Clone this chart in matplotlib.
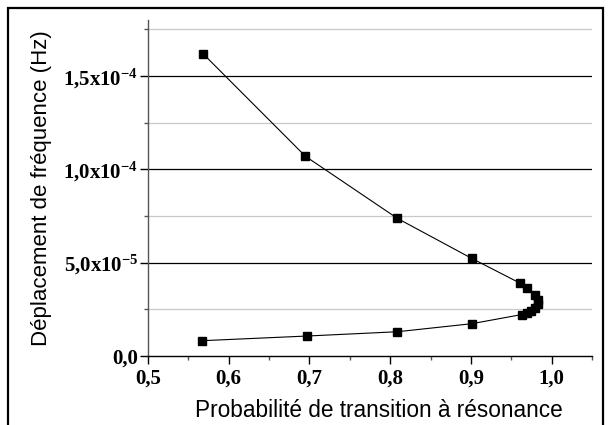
import matplotlib
matplotlib.use("Agg")
import matplotlib.pyplot as plt
from matplotlib.ticker import MultipleLocator
from matplotlib.patches import Rectangle

plt.rcParams['mathtext.fontset'] = 'custom'
plt.rcParams['mathtext.rm'] = 'Liberation Serif:bold'
plt.rcParams['mathtext.bf'] = 'Liberation Serif:bold'
plt.rcParams['mathtext.it'] = 'Liberation Serif:bold'

# Probability of transition at resonance vs. frequency shift
probabilite = [0.568, 0.695, 0.809, 0.901, 0.961, 0.970, 0.979, 0.983, 0.983,
               0.980, 0.975, 0.969, 0.963, 0.901, 0.809, 0.697, 0.567]
deplacement = [1.62e-4, 1.07e-4, 7.37e-5, 5.23e-5, 3.90e-5, 3.63e-5, 3.26e-5,
               2.99e-5, 2.78e-5, 2.56e-5, 2.40e-5, 2.30e-5, 2.22e-5, 1.73e-5,
               1.30e-5, 1.07e-5, 8.2e-6]

x_ticks = [0.5, 0.6, 0.7, 0.8, 0.9, 1.0]
x_labels = ['0,5', '0,6', '0,7', '0,8', '0,9', '1,0']
y_ticks = [0.0, 5e-5, 1e-4, 1.5e-4]
y_labels = ['0,0', '5,0x10$^{-5}$', '1,0x10$^{-4}$', '1,5x10$^{-4}$']

fig = plt.figure(figsize=(6.11, 4.25), dpi=100)
ax = fig.add_axes([148/611, 1-356/425, (592-148)/611, (356-20)/425])

ax.plot(probabilite, deplacement, color='black', lw=0.8, marker='s',
        markersize=6, markerfacecolor='black', markeredgecolor='black', zorder=3)

ax.set_xlim(0.5, 1.05)
ax.set_ylim(0, 1.8e-4)

ax.set_xticks(x_ticks)
ax.set_xticklabels(x_labels, fontfamily='Liberation Serif', fontweight='bold', fontsize=15)
ax.xaxis.set_minor_locator(MultipleLocator(0.05))
ax.set_yticks(y_ticks)
ax.set_yticklabels(y_labels, fontfamily='Liberation Serif', fontweight='bold', fontsize=15)
ax.yaxis.set_minor_locator(MultipleLocator(2.5e-5))

ax.tick_params(axis='both', which='major', direction='out', length=6, width=1, color='black')
ax.tick_params(axis='both', which='minor', direction='out', length=3, width=1, color='#555555')
ax.tick_params(axis='x', which='major', pad=3)
ax.tick_params(axis='y', which='major', pad=1)

# horizontal grid: dark at major ticks, light grey at minor ticks
for yv in y_ticks[1:]:
    ax.axhline(yv, color='black', lw=0.9, zorder=1)
for k in range(1, 8, 2):
    ax.axhline(k * 2.5e-5, color='#c8c8c8', lw=0.9, zorder=1)

for side in ['top', 'right']:
    ax.spines[side].set_visible(False)
ax.spines['left'].set_color('#555555')
ax.spines['bottom'].set_color('black')
ax.spines['left'].set_linewidth(1)
ax.spines['bottom'].set_linewidth(1)

ax.set_xlabel('Probabilité de transition à résonance', fontfamily='Liberation Sans',
              fontsize=16.3)
ax.xaxis.set_label_coords(0.52, -0.128)
ax.set_ylabel('Déplacement de fréquence (Hz)', fontfamily='Liberation Sans',
              fontsize=16, labelpad=8)

# outer frame
fig.patches.append(Rectangle((8/611, -0.05), (603-8)/611, 1.05 - 8/425,
                             transform=fig.transFigure, fill=False,
                             edgecolor='black', lw=1.6))

fig.savefig('out.png', dpi=100)
